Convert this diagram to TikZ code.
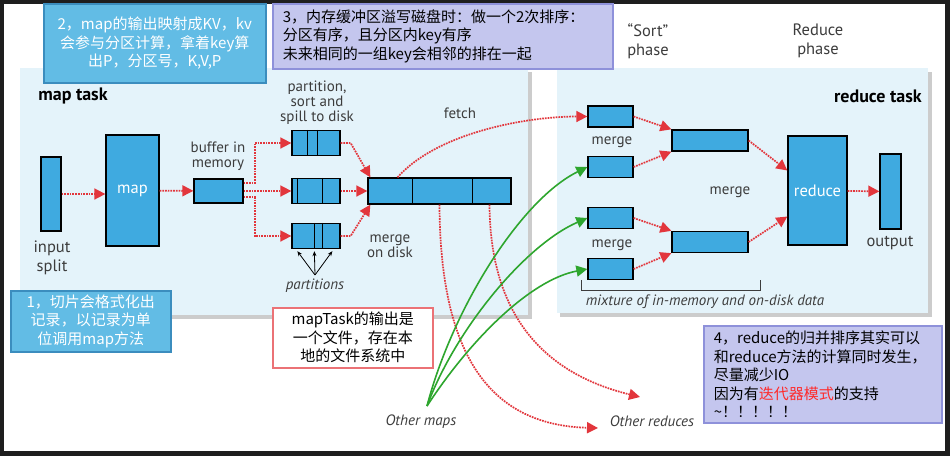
\documentclass[tikz,border=0pt]{standalone}
\usepackage{fontspec}
\setmainfont{Liberation Sans}
\newfontfamily\cjk{Noto Sans CJK SC}
\newfontfamily\lblfont{PT Sans}
\usetikzlibrary{arrows.meta}
\definecolor{darkbg}{HTML}{1E1E1E}
\definecolor{panel}{HTML}{E4F3FA}
\definecolor{boxblue}{HTML}{3FAAE0}
\definecolor{noteblue}{HTML}{62BCE5}
\definecolor{noteedge}{HTML}{3B8DBE}
\definecolor{lavender}{HTML}{C4C6EE}
\definecolor{lavedge}{HTML}{8E91DA}
\definecolor{flowred}{HTML}{E2363C}
\definecolor{notered}{HTML}{FF2A2A}
\definecolor{mapgreen}{HTML}{2EA62E}
\definecolor{lblgray}{HTML}{3C3C3C}
\begin{document}
\begin{tikzpicture}[x=1pt, y=-1pt,
    blk/.style={draw, line width=1.3pt, fill=boxblue, inner sep=0pt},
    flow/.style={draw=flowred, line width=1.7pt, densely dotted, -{Triangle[length=11pt,width=11pt]}},
    grn/.style={draw=mapgreen, line width=1.6pt, -{Triangle[length=11pt,width=11pt]}},
    lbl/.style={font=\lblfont\fontsize{15}{15}\selectfont, text=lblgray, align=center, inner sep=0pt},
    big/.style={font=\lblfont\fontsize{16.5}{19}\selectfont},
    ital/.style={font=\lblfont\itshape\fontsize{15}{15}\selectfont},
    note/.style={anchor=north west, inner sep=0pt, align=center, line width=1.5pt, font=\cjk\fontsize{15}{18.5}\selectfont}]
    \useasboundingbox (0,0) rectangle (950,456);
    \fill[darkbg] (0,0) rectangle (950,456);
    \fill[white] (4,4) rectangle (945,451);
    \fill[black!20] (23,72) rectangle (532,319);
    \fill[panel] (20,68) rectangle (528,315);
    \fill[black!20] (560,72) rectangle (932,317);
    \fill[panel] (557,68) rectangle (928,313);

    \node[blk, minimum width=20, minimum height=74] (split) at (51,194) {};
    \node[blk, minimum width=53, minimum height=111, text=white, big] (mapbox) at (132.5,190.5) {map};
    \node[blk, minimum width=49, minimum height=24] (buf) at (218.5,191) {};
    \foreach \n/\y in {sp1/143, sp2/191, sp3/236}
        \node[blk, minimum width=48, minimum height=25] (\n) at (316,\y) {};
    \node[blk, minimum width=143, minimum height=26] (mrg) at (439.5,191) {};
    \foreach \b/\o in {sp1/16, sp1/26, sp2/6, sp2/31, sp3/23, sp3/31, mrg/45, mrg/105}
        \draw[line width=1.3pt] ([xshift=\o]\b.north west) -- ([xshift=\o]\b.south west);
    \foreach \n/\y in {r1/116.5, r2/167, r3/218, r4/269}
        \node[blk, minimum width=45, minimum height=21] (\n) at (610.5,\y) {};
    \node[blk, minimum width=76, minimum height=21] (m1) at (710,140.5) {};
    \node[blk, minimum width=76, minimum height=21] (m2) at (710,242) {};
    \node[blk, minimum width=59, minimum height=109, text=white, big] (rdc) at (817.5,190.5) {reduce};
    \node[blk, minimum width=21, minimum height=75] (out) at (890.5,191.5) {};

    \node[lbl, font=\lblfont\bfseries\fontsize{18}{18}\selectfont, text=black] (maptask) at (73,96) {map task};
    \node[lbl, font=\lblfont\bfseries\fontsize{18}{18}\selectfont, text=black, anchor=east] (redtask) at (922,96) {reduce task};
    \node[lbl, big] (splitlbl) at (52,258) {input\\split};
    \node[lbl] (buflbl) at (218,156) {buffer in\\memory};
    \node[lbl] (spilllbl) at (317,103) {partition,\\sort and\\spill to disk};
    \node[lbl] (mdlbl) at (390,246) {merge\\on disk};
    \node[lbl] (fetchlbl) at (460,113) {fetch};
    \node[lbl, ital] (ptn) at (315,286) {partitions};
    \node[lbl, big] (sortlbl) at (648,41) {“Sort”\\phase};
    \node[lbl, big] (phaselbl) at (818,41) {Reduce\\phase};
    \node[lbl] (mg1) at (612,142) {merge};
    \node[lbl] (mg2) at (612,245) {merge};
    \node[lbl] (mg3) at (730,192) {merge};
    \node[lbl, big] (outlbl) at (890,243) {output};
    \node[lbl, ital] (mixlbl) at (705,302) {mixture of in-memory and on-disk data};
    \node[lbl, ital] (omaps) at (421,422) {Other maps};
    \node[lbl, ital] (oreds) at (652,421) {Other reduces};
    \draw[lblgray, line width=0.8pt] (581,280) -- (581,290) -- (760,290) -- (760,280);

    \draw[flow] (split.east) -- (split.east -| mapbox.west);
    \draw[flow] (mapbox) -- (buf);
    \draw[flow] (buf) -- (sp2);
    \draw[flow] ([yshift=8]buf.east) -- ++(11,0) |- (sp1);
    \draw[flow] ([yshift=-6]buf.east) -- ++(11,0) |- (sp3);
    \draw[flow] (sp1.east) -- ++(10,0) -- ([xshift=3]mrg.north west);
    \draw[flow] (sp2) -- (mrg);
    \draw[flow] (sp3.east) -- ++(10,0) -- ([xshift=3]mrg.south west);
    \draw[flow] ([xshift=-42]mrg.north) .. controls +(40,-45) and +(-60,0) .. (r1.west);
    \draw[flow] (r1.east) -- (m1.north west);
    \draw[flow] (r2.east) -- (m1.south west);
    \draw[flow] (r3.east) -- (m2.north west);
    \draw[flow] (r4.east) -- (m2.south west);
    \draw[flow] (m1.east) -- ([yshift=20]rdc.west);
    \draw[flow] (m2.east) -- ([yshift=-26]rdc.west);
    \draw[flow] (rdc) -- (out);
    \foreach \o in {6,23,41}
        \draw[line width=0.8pt, -{Stealth[length=5pt,width=4pt]}] ([yshift=4]ptn.north) -- ([xshift=\o,yshift=-2]sp3.south west);

    \coordinate (oredA) at (640,397);
    \coordinate (oredB) at (598,428);
    \coordinate (omtip) at (427,406);
    \draw[flow] ([xshift=50]mrg.south) .. controls (490,300) and (530,370) .. (oredA);
    \draw[flow] (mrg.south) .. controls (440,340) and (480,425) .. (oredB);
    \draw[grn] (omtip) .. controls (452,310) and (520,200) .. (r2.west);
    \draw[grn] (omtip) .. controls (455,330) and (525,245) .. (r3.west);
    \draw[grn] (omtip) .. controls (470,340) and (530,280) .. (r4.west);

    \node[note, fill=noteblue, draw=noteedge, text=white, minimum width=222, minimum height=79, text width=222] (n2) at (43,3)
        {2，map的输出映射成KV，kv\\会参与分区计算，拿着key算\\出P，分区号，K,V,P};
    \node[note, fill=lavender, draw=lavedge, align=left, inner xsep=10, text width=320, minimum width=340, minimum height=65] (n3) at (272,3)
        {3，内存缓冲区溢写磁盘时：做一个2次排序：\\分区有序，且分区内key有序\\未来相同的一组key会相邻的排在一起};
    \node[note, fill=noteblue, draw=noteedge, text=white, minimum width=160, minimum height=61, text width=160] (n1) at (10,290)
        {1，切片会格式化出\\记录，以记录为单\\位调用map方法};
    \node[note, fill=white, draw=flowred!70, minimum width=160, minimum height=60, text width=160] (nmt) at (272,307)
        {mapTask的输出是\\一个文件，存在本\\地的文件系统中};
    \node[note, fill=lavender, draw=lavedge, align=left, inner xsep=10, text width=218, minimum width=238, minimum height=97] (n4) at (703,325)
        {4，reduce的归并排序其实可以\\和reduce方法的计算同时发生，\\尽量减少IO\\因为有\textcolor{notered}{迭代器模式}的支持\\\textasciitilde！！！！！};
\end{tikzpicture}
\end{document}
